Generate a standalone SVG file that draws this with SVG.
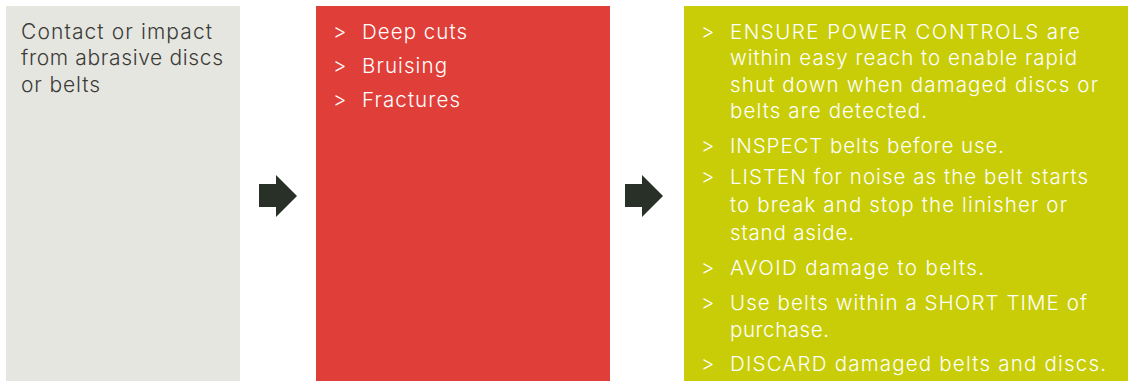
<svg xmlns="http://www.w3.org/2000/svg" width="1132" height="381" viewBox="0 0 1132 381">
<style>
.t{font-family:Inter,"DejaVu Sans",sans-serif;font-size:20.5px;font-weight:300}
.d{fill:#3b3b38;font-size:21px}
.w{fill:#ffffff}
</style>
<rect width="1132" height="381" fill="#ffffff"/>
<g id="node-hazard">
<rect x="6" y="6" width="234" height="375" fill="#e6e6e0"/>
<g class="t d">
<text x="21" y="39" textLength="191" lengthAdjust="spacing">Contact or impact</text>
<text x="21" y="65" textLength="202" lengthAdjust="spacing">from abrasive discs</text>
<text x="21" y="92" textLength="79" lengthAdjust="spacing">or belts</text>
</g>
</g>
<g id="node-harm">
<rect x="316" y="6" width="294" height="375" fill="#e03e38"/>
<g class="t w">
<text x="333" y="39">&gt;</text><text x="362" y="39" textLength="105" lengthAdjust="spacing">Deep cuts</text>
<text x="333" y="73">&gt;</text><text x="362" y="73" textLength="85" lengthAdjust="spacing">Bruising</text>
<text x="333" y="107">&gt;</text><text x="362" y="107" textLength="98" lengthAdjust="spacing">Fractures</text>
</g>
</g>
<g id="node-controls">
<rect x="684" y="6" width="444" height="375" fill="#c8cd08"/>
<g class="t w">
<text x="701" y="39">&gt;</text><text x="730" y="39" textLength="350" lengthAdjust="spacing">ENSURE POWER CONTROLS are</text>
<text x="730" y="65" textLength="347" lengthAdjust="spacing">within easy reach to enable rapid</text>
<text x="730" y="92" textLength="368" lengthAdjust="spacing">shut down when damaged discs or</text>
<text x="730" y="118" textLength="197" lengthAdjust="spacing">belts are detected.</text>
<text x="701" y="153">&gt;</text><text x="730" y="153" textLength="274" lengthAdjust="spacing">INSPECT belts before use.</text>
<text x="701" y="184">&gt;</text><text x="730" y="184" textLength="358" lengthAdjust="spacing">LISTEN for noise as the belt starts</text>
<text x="730" y="212" textLength="337" lengthAdjust="spacing">to break and stop the linisher or</text>
<text x="730" y="240" textLength="124" lengthAdjust="spacing">stand aside.</text>
<text x="701" y="275">&gt;</text><text x="730" y="275" textLength="254" lengthAdjust="spacing">AVOID damage to belts.</text>
<text x="701" y="310">&gt;</text><text x="730" y="310" textLength="357" lengthAdjust="spacing">Use belts within a SHORT TIME of</text>
<text x="730" y="337" textLength="99" lengthAdjust="spacing">purchase.</text>
<text x="701" y="371">&gt;</text><text x="730" y="371" textLength="376" lengthAdjust="spacing">DISCARD damaged belts and discs.</text>
</g>
</g>
<g id="connectors" fill="#283028">
<path d="M259,184 H276 V175 L297,196 L276,217 V207 H259 Z"/>
<path d="M625,184 H642 V175 L663,196 L642,217 V207 H625 Z"/>
</g>
</svg>
